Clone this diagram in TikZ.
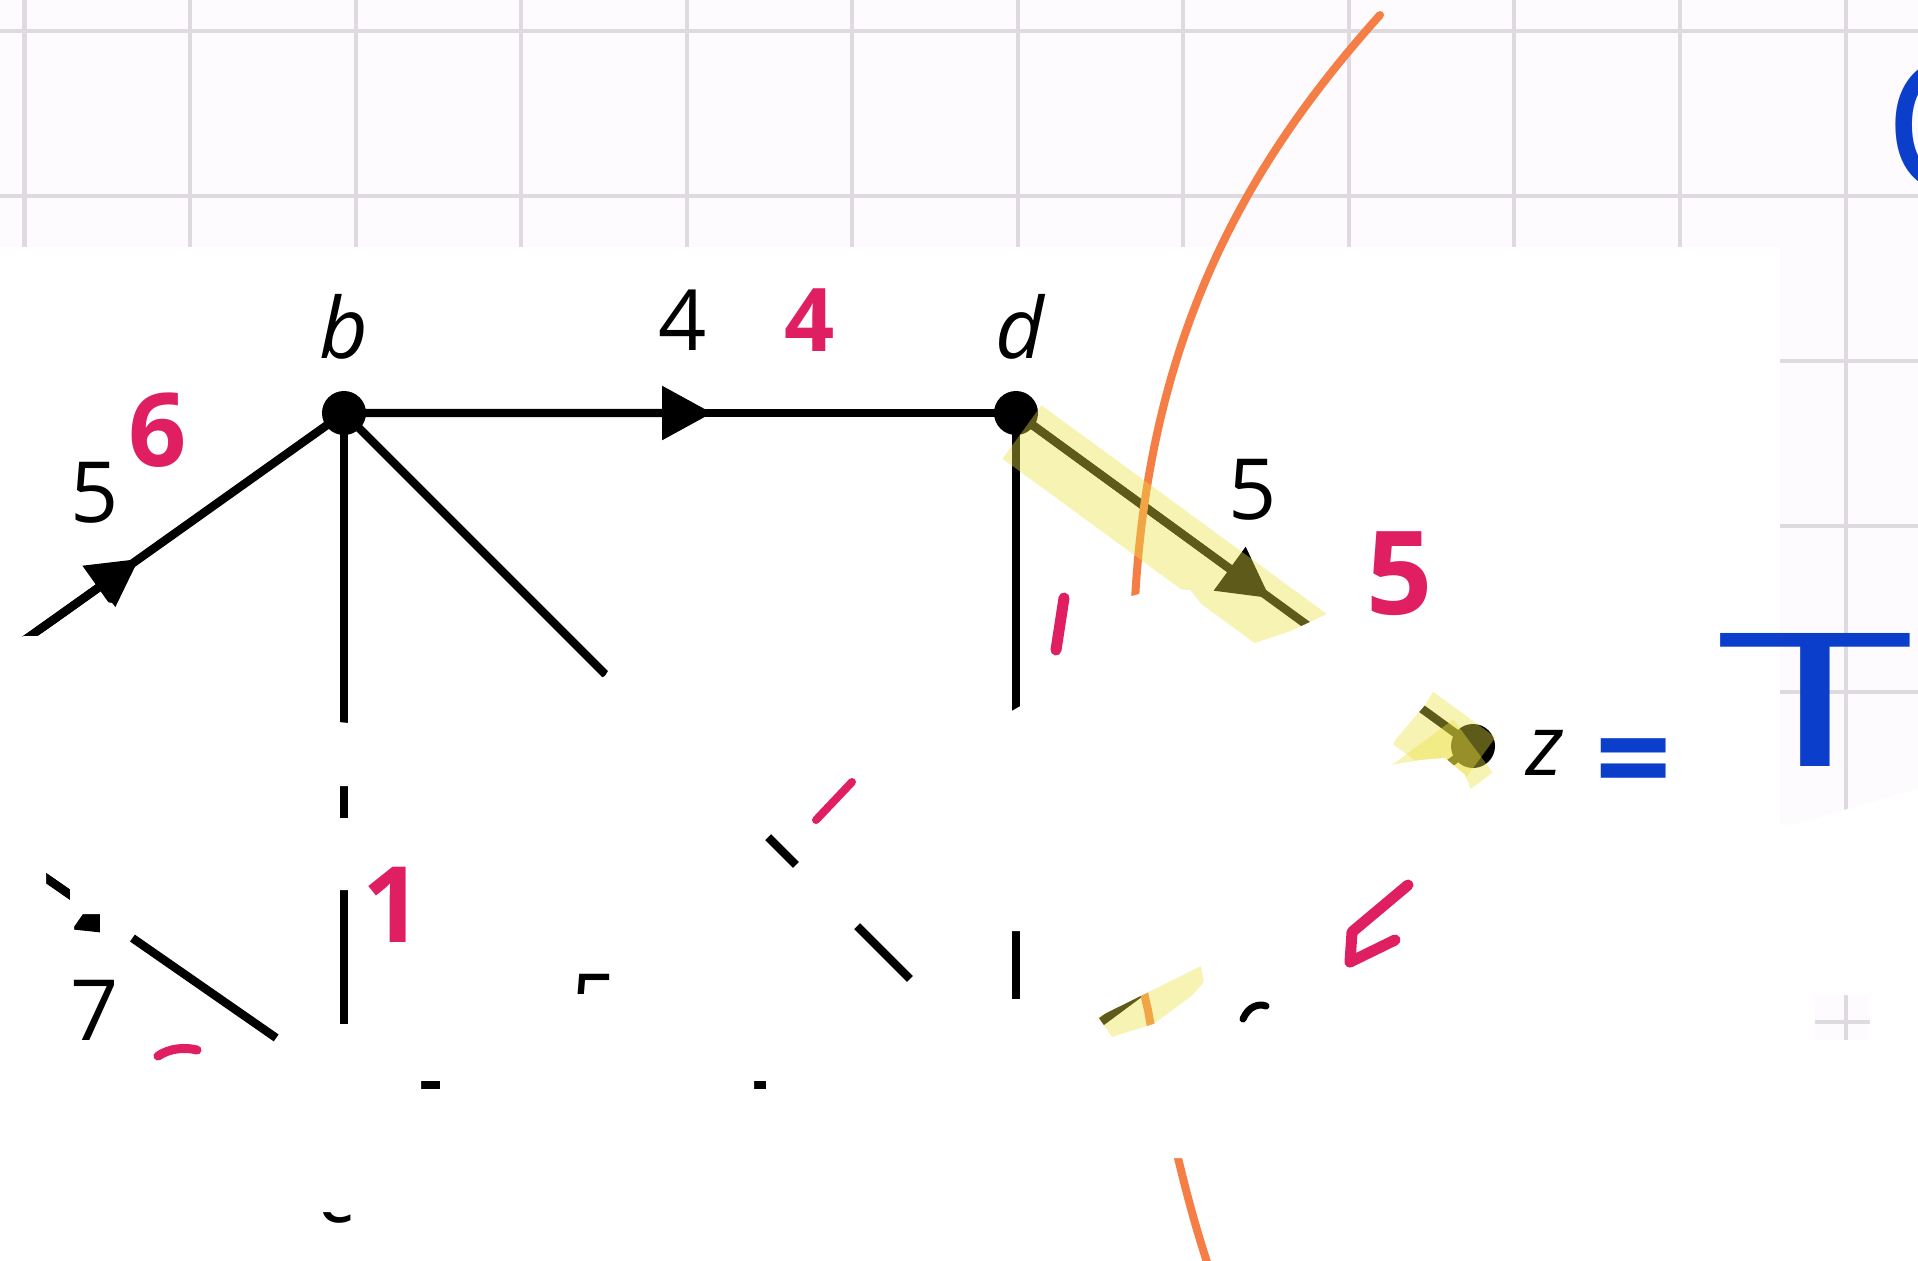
\documentclass[tikz,border=0pt]{standalone}
\usepackage{fontspec}
\setmainfont{Open Sans}
\usetikzlibrary{arrows.meta,calc}
\definecolor{PaperTint}{HTML}{FDFBFD}
\definecolor{GridGrey}{HTML}{DEDAE0}
\definecolor{PenPink}{HTML}{E01F63}
\definecolor{PenBlue}{HTML}{0C3ECC}
\definecolor{CutOrange}{HTML}{F57D46}
\definecolor{MarkerYellow}{HTML}{EDE141}

\begin{document}
\begin{tikzpicture}[x=0.01cm,y=-0.01cm,
    every node/.style={inner sep=0pt},
    vertex/.style={circle,fill=black,minimum size=0.44cm},
    wlabel/.style={font=\fontsize{24}{28}\selectfont},
    vlabel/.style={font=\fontsize{24}{28}\selectfont\itshape},
    pinkpen/.style={text=PenPink,font=\fontsize{#1}{#1}\selectfont\bfseries},
    bluepen/.style={text=PenBlue,font=\fontsize{#1}{#1}\selectfont},
    link/.style={line width=2.4pt},
    arrowto/.style={line width=2.4pt,-{Triangle[length=0.5cm,width=0.52cm]}},
    marker/.style={line width=0.66cm,MarkerYellow,opacity=0.4},
    ink/.style={line width=#1,line cap=round,line join=round}
  ]
    \useasboundingbox (0,0) rectangle (1918,1260);
    \clip (0,0) rectangle (1918,1260);
    \fill[PaperTint] (0,0) rectangle (1918,1260);
    \foreach \gx in {0,...,11}
      \draw[GridGrey,line width=0.04cm] ({24.5+165.55*\gx},0) -- ++(0,1260);
    \foreach \gy in {0,...,7}
      \draw[GridGrey,line width=0.04cm] (0,{30.5+165.3*\gy}) -- ++(1918,0);
    \fill[white] (0,247) rectangle (1780,1260);

    \coordinate (a) at (-134,753);
    \coordinate (c) at (344,1085);
    \coordinate (e) at (1016,1085);
    \node[vertex] (b) at (344,413) {};
    \node[vertex] (d) at (1016,413) {};
    \node[vertex] (z) at (1473,746) {};

    \draw[link] (a) -- (b.center);
    \draw[arrowto] (a) -- ($(a)!0.571!(b.center)$);
    \draw[link] (a) -- (c);
    \draw[arrowto] (a) -- ($(a)!0.55!(c)$);
    \draw[link] (b.center) -- (d.center);
    \draw[arrowto] (b.center) -- ($(b.center)!0.548!(d.center)$);
    \draw[link] (b.center) -- (c);
    \draw[link] (b.center) -- (e);
    \draw[link] (d.center) -- (e);
    \draw[link] (c) -- (e);
    \draw[link] (d.center) -- (z.center);
    \draw[arrowto] (d.center) -- ($(d.center)!0.556!(z.center)$);
    \draw[link] (e) -- (z.center);

    \node[vlabel] (bname) at (344,327) {b};
    \node[vlabel] (dname) at (1020,327) {d};
    \node[vlabel] (zname) at (1545,753) {z};
    \node[vlabel] (cname) at (338,1200) {c};
    \node[wlabel] (wab) at (95,493) {5};
    \node[wlabel] (wbd) at (683,320) {4};
    \node[wlabel] (wdz) at (1253,490) {5};
    \node[wlabel] (wac) at (95,1010) {7};
    \node[wlabel] (wce) at (595,1005) {5};

    \draw[CutOrange,ink=0.08cm] (1380,15) .. controls (1250,160) and (1150,330) .. (1135,600)
      .. controls (1125,800) and (1130,940) .. (1148,1010)
      .. controls (1160,1080) and (1180,1180) .. (1207,1262);
    \draw[marker] (1022,432) -- (1476,764);
    \draw[marker] (e) -- (z.center);

    \fill[white,even odd rule] (-10,650) -- (24,636) -- (38,636) -- (50,628) -- (75,612) -- (95,600)
      -- (112,603) -- (122,615) -- (130,640) -- (250,690) -- (338,722) -- (360,724) -- (560,700)
      -- (605,676) -- (615,660) -- (700,660) -- (850,680) -- (990,714) -- (1010,712) -- (1024,704)
      -- (1034,668) -- (1055,650) -- (1094,614) -- (1125,598) -- (1160,588) -- (1190,590)
      -- (1210,615) -- (1237,649) -- (1291,631) -- (1344,606) -- (1380,612) -- (1445,628)
      -- (1450,650) -- (1440,680) -- (1425,705) -- (1395,740) -- (1385,766) -- (1420,760)
      -- (1445,758) -- (1465,775) -- (1475,800) -- (1520,812) -- (1700,812) -- (1792,825)
      -- (1930,785) -- (1930,1270) -- (-10,1270) -- cycle
      (46,870) rectangle (70,900)
      (74,914) rectangle (100,938)
      (140,927) -- (284,1027) -- (270,1047) -- (126,947) -- cycle
      (68,972) rectangle (120,1048)
      (332,786) rectangle (356,818)
      (332,890) rectangle (356,1024)
      (421,1074) rectangle (440,1096)
      (754,1077) rectangle (766,1093)
      (570,970) rectangle (620,994)
      (778,827) -- (806,855) -- (786,875) -- (758,847) -- cycle
      (867,916) -- (920,969) -- (900,989) -- (847,936) -- cycle
      (1005,931) rectangle (1029,999)
      (1098,1017) -- (1201,966) -- (1204,982) -- (1173,1018) -- (1112,1037) -- cycle
      (1160,1158) -- (1190,1158) -- (1225,1270) -- (1190,1270) -- cycle
      (310,1212) rectangle (360,1236)
      (1815,995) rectangle (1870,1040);

    \node[pinkpen=29] (pab) at (158,430) {6};
    \node[pinkpen=25] (pbd) at (810,320) {4};
    \node[pinkpen=33] (pdz) at (1400,574) {5};
    \node[pinkpen=30] (pbc) at (393,905) {1};
    \draw[PenPink,ink=0.11cm] (1064,598) -- (1056,650);
    \draw[PenPink,ink=0.08cm] (816,820) -- (852,782);
    \draw[PenPink,ink=0.11cm] (1408,885) -- (1352,932) -- (1350,962) -- (1395,940);
    \draw[PenPink,ink=0.09cm] (158,1056) .. controls (170,1048) and (185,1047) .. (197,1050);
    \draw[ink=0.07cm] (1243,1019) .. controls (1248,1007) and (1258,1003) .. (1266,1006);

    \node[bluepen=38] (eqsign) at (1634,772) {\bfseries =};
    \node[bluepen=53] (tval) at (1815,700) {\scalebox{1.9}[1]{T}};
    \node[bluepen=53,anchor=west] (cpart) at (1884,125) {C};
  \end{tikzpicture}
\end{document}
